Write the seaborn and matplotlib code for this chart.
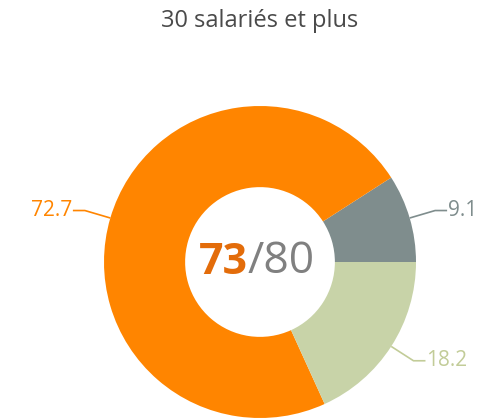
import matplotlib
matplotlib.use("Agg")
import matplotlib.pyplot as plt
import seaborn as sns
import numpy as np

# ---- data ----
title = "30 salariés et plus"
labels = ["gris", "orange", "vert"]
values = [9.1, 72.7, 18.2]
value_labels = ["9.1", "72.7", "18.2"]
score = "73"
score_max = "/80"

# ---- style ----
sns.set_theme(style="white")
plt.rcParams['font.family'] = ['Open Sans', 'DejaVu Sans']
colors = ["#7F8D8D", "#FF8500", "#C8D3A8"]
label_colors = ["#7F8D8D", "#FF8500", "#C2CC98"]

W, H = 490, 420
fig = plt.figure(figsize=(W / 100, H / 100), dpi=100)
ax = fig.add_axes([0, 0, 1, 1])

cx, cy, R = 260, H - 262, 156
wedges, _ = ax.pie(values, colors=colors, startangle=0, counterclock=True,
                   radius=R, center=(cx, cy),
                   wedgeprops=dict(width=R * 0.52, linewidth=0))
ax.set_xlim(0, W)
ax.set_ylim(0, H)
ax.set_aspect("equal")
ax.axis("off")

for w, txt, col in zip(wedges, value_labels, label_colors):
    ang = np.deg2rad((w.theta1 + w.theta2) / 2)
    ca, sa = np.cos(ang), np.sin(ang)
    p0 = (cx + R * ca, cy + R * sa)
    p1 = (cx + 1.17 * R * ca, cy + 1.17 * R * sa)
    sgn = 1 if ca >= 0 else -1
    p2 = (p1[0] + sgn * 12, p1[1])
    ax.plot([p0[0], p1[0], p2[0]], [p0[1], p1[1], p2[1]], color=col, lw=1.2,
            solid_capstyle="butt")
    ax.text(p2[0] + sgn * 1, p2[1], txt, color=col, fontsize=15,
            ha="left" if sgn > 0 else "right", va="center")

ax.text(248, cy, score, color="#E36C0A", fontsize=31, fontweight="bold",
        ha="right", va="center")
ax.text(248, cy, score_max, color="#808080", fontsize=32,
        ha="left", va="center")

ax.text(260, H - 21, title, color="#4A4A4A", fontsize=17,
        ha="center", va="center")

fig.savefig("out.png", dpi=100)
